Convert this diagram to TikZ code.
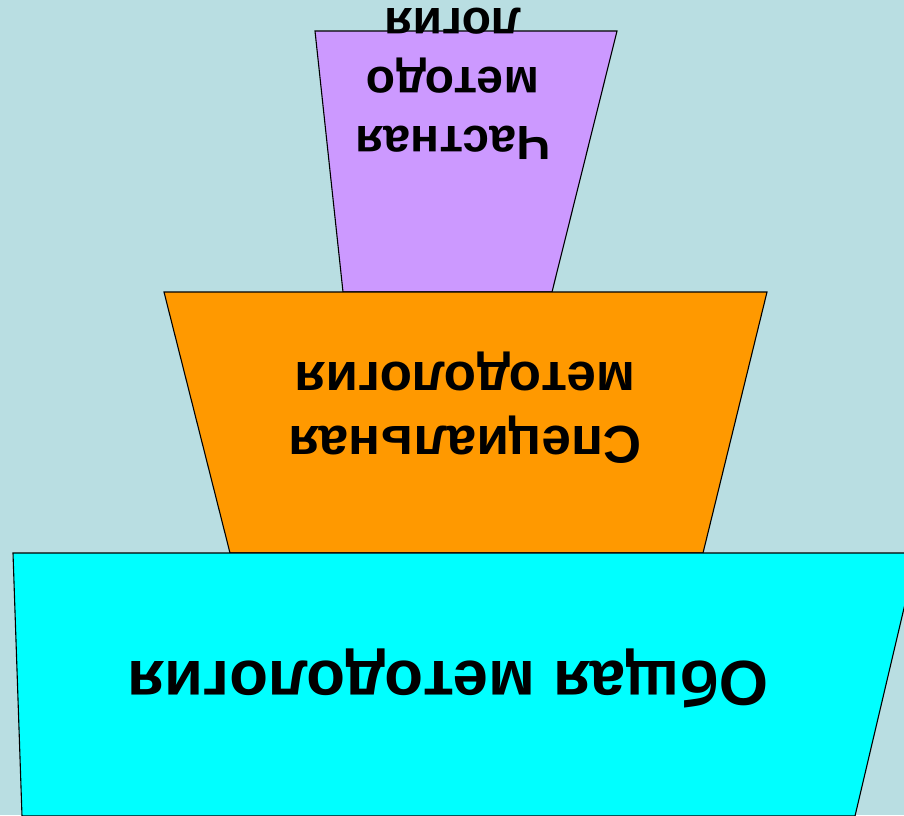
\documentclass[tikz,border=0pt]{standalone}
\usepackage{fontspec}
\setmainfont{Liberation Sans}
\usepackage{xcolor}
\usepackage{tikz}
\usetikzlibrary{calc,positioning}
\definecolor{bgx}{HTML}{B9DEE2}
\definecolor{lilacx}{HTML}{CC99FF}
\definecolor{orangex}{HTML}{FF9900}
\definecolor{cyanx}{HTML}{00FFFF}
\tikzset{
  lvl/.style={draw=black,line width=1.1pt,line join=miter},
  lbl/.style={rotate=180,align=center,inner sep=0pt,text=black}
}

\begin{document}
\begin{tikzpicture}[x=1pt,y=-1pt]
\fill[bgx] (0,0) rectangle (904,815);
\useasboundingbox (0,0) rectangle (904,815);
% three levels, widest at the bottom
\draw[lvl,fill=lilacx] (315,31)--(617,31)--(552,292)--(343,292)--cycle;
\draw[lvl,fill=orangex] (164,292)--(767,292)--(703,553)--(230,553)--cycle;
\draw[lvl,fill=cyanx] (13,553)--(917,553)--(855,816)--(22,816)--cycle;
\node[lbl,font=\fontsize{48}{59}\selectfont\bfseries] (chast) at (453,84) {Частная\\методо\\логия};
\node[lbl,font=\fontsize{53}{64}\selectfont\bfseries] (spec) at (465,408) {Специальная\\методология};
\node[lbl,font=\fontsize{63.5}{76}\selectfont\bfseries] (obsh) at (448,678) {Общая методология};
\end{tikzpicture}
\end{document}
